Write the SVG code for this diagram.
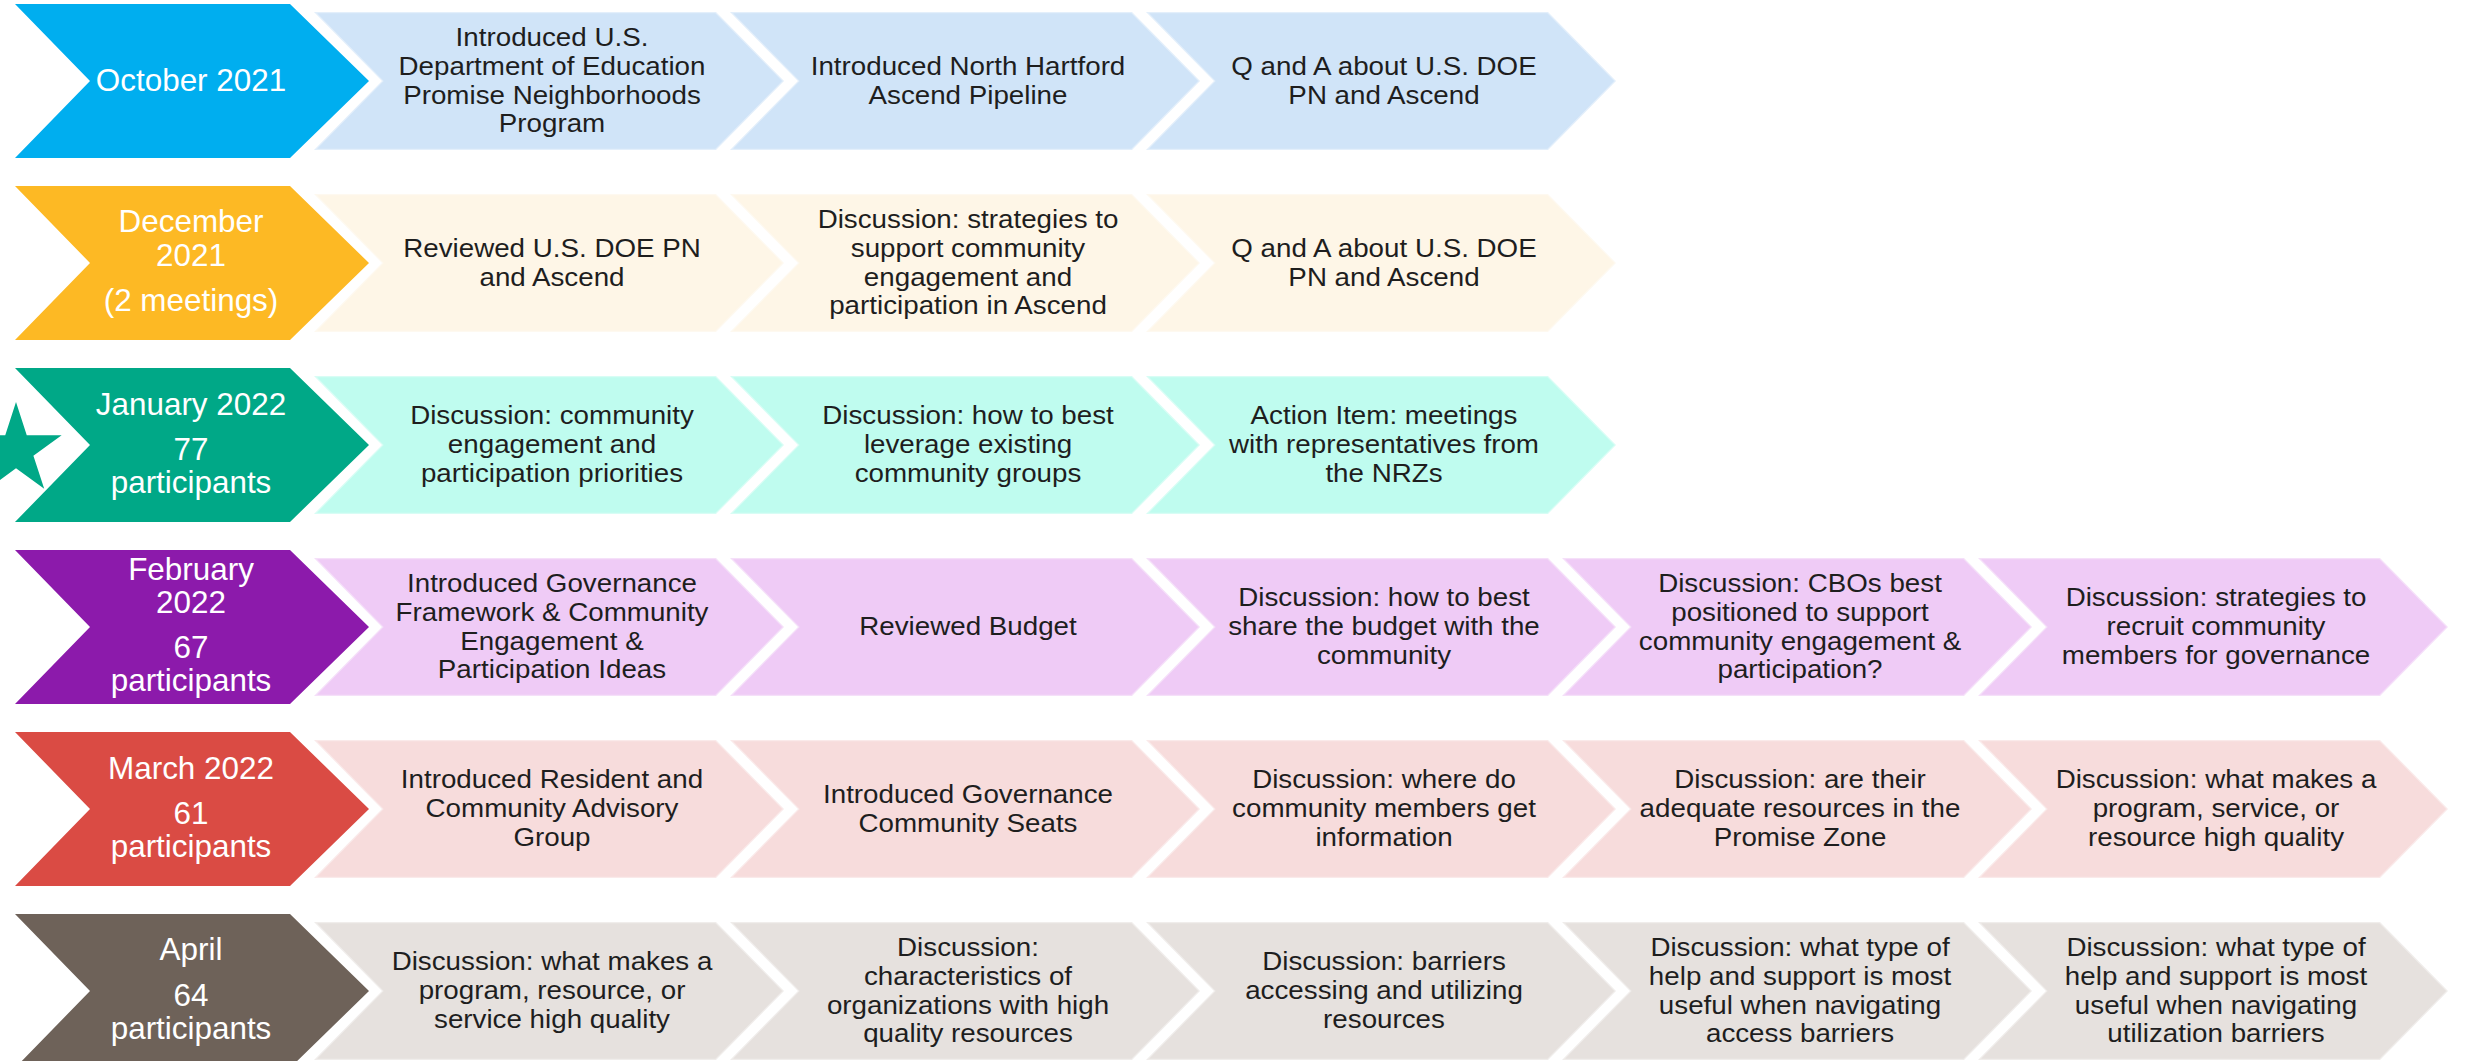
<svg xmlns="http://www.w3.org/2000/svg" xmlns:xlink="http://www.w3.org/1999/xlink" width="2465" height="1061" viewBox="0 0 2465 1061">
<defs>
<path id="chev" d="M15,0 L290,0 L369,77 L290,154 L15,154 L90,77 Z"/>
<path id="box" d="M0,8 L402,8 L470,77 L402,146 L0,146 L68,77 Z"/>
<style>
.c1{fill:#00AEEF}.c2{fill:#FDB924}.c3{fill:#00A887}.c4{fill:#8C1AAB}.c5{fill:#DA4B44}.c6{fill:#6E6259}
.b1{fill:#D0E4F8}.b2{fill:#FEF6E7}.b3{fill:#BFFCEF}.b4{fill:#EFCBF6}.b5{fill:#F7DCDC}.b6{fill:#E6E1DE}
.bx{stroke:#FFFFFF;stroke-opacity:0.4;stroke-width:2.5}
.ct{font-family:"Liberation Sans",Arial,sans-serif;font-size:30.5px;fill:#FFFFFF;text-anchor:middle}
.bt{font-family:"Liberation Sans",Arial,sans-serif;font-size:25px;fill:#1E1E1E;text-anchor:middle}
</style>
</defs>
<rect width="2465" height="1061" fill="#FFFFFF"/>
<g id="connectors"/>

<!-- Row 1: October 2021 -->
<g id="oct-2021">
<use xlink:href="#chev" href="#chev" y="4" class="c1"/>
<text class="ct" transform="translate(191 0) scale(1.03 1)"><tspan x="0" y="91">October 2021</tspan></text>
</g>
<g id="oct-1">
<use xlink:href="#box" href="#box" x="314" y="4" class="b1 bx"/>
<text class="bt" transform="translate(552 0) scale(1.11 1)"><tspan x="0" y="46">Introduced U.S.</tspan><tspan x="0" y="74.8">Department of Education</tspan><tspan x="0" y="103.6">Promise Neighborhoods</tspan><tspan x="0" y="132.4">Program</tspan></text>
</g>
<g id="oct-2">
<use xlink:href="#box" href="#box" x="730" y="4" class="b1 bx"/>
<text class="bt" transform="translate(968 0) scale(1.11 1)"><tspan x="0" y="74.9">Introduced North Hartford</tspan><tspan x="0" y="103.7">Ascend Pipeline</tspan></text>
</g>
<g id="oct-3">
<use xlink:href="#box" href="#box" x="1146" y="4" class="b1 bx"/>
<text class="bt" transform="translate(1384 0) scale(1.11 1)"><tspan x="0" y="74.9">Q and A about U.S. DOE</tspan><tspan x="0" y="103.7">PN and Ascend</tspan></text>
</g>

<!-- Row 2: December 2021 -->
<g id="dec-2021">
<use xlink:href="#chev" href="#chev" y="186" class="c2"/>
<text class="ct" transform="translate(191 0) scale(1.03 1)"><tspan x="0" y="232">December</tspan><tspan x="0" y="266">2021</tspan><tspan x="0" y="311">(2 meetings)</tspan></text>
</g>
<g id="dec-1">
<use xlink:href="#box" href="#box" x="314" y="186" class="b2 bx"/>
<text class="bt" transform="translate(552 0) scale(1.11 1)"><tspan x="0" y="256.9">Reviewed U.S. DOE PN</tspan><tspan x="0" y="285.7">and Ascend</tspan></text>
</g>
<g id="dec-2">
<use xlink:href="#box" href="#box" x="730" y="186" class="b2 bx"/>
<text class="bt" transform="translate(968 0) scale(1.11 1)"><tspan x="0" y="228">Discussion: strategies to</tspan><tspan x="0" y="256.8">support community</tspan><tspan x="0" y="285.6">engagement and</tspan><tspan x="0" y="314.4">participation in Ascend</tspan></text>
</g>
<g id="dec-3">
<use xlink:href="#box" href="#box" x="1146" y="186" class="b2 bx"/>
<text class="bt" transform="translate(1384 0) scale(1.11 1)"><tspan x="0" y="256.9">Q and A about U.S. DOE</tspan><tspan x="0" y="285.7">PN and Ascend</tspan></text>
</g>

<!-- Row 3: January 2022 -->
<g id="jan-2022">
<use xlink:href="#chev" href="#chev" y="368" class="c3"/>
<text class="ct" transform="translate(191 0) scale(1.03 1)"><tspan x="0" y="415">January 2022</tspan><tspan x="0" y="460.5">77</tspan><tspan x="0" y="492.7">participants</tspan></text>
</g>
<g id="jan-1">
<use xlink:href="#box" href="#box" x="314" y="368" class="b3 bx"/>
<text class="bt" transform="translate(552 0) scale(1.11 1)"><tspan x="0" y="424.5">Discussion: community</tspan><tspan x="0" y="453.3">engagement and</tspan><tspan x="0" y="482.1">participation priorities</tspan></text>
</g>
<g id="jan-2">
<use xlink:href="#box" href="#box" x="730" y="368" class="b3 bx"/>
<text class="bt" transform="translate(968 0) scale(1.11 1)"><tspan x="0" y="424.5">Discussion: how to best</tspan><tspan x="0" y="453.3">leverage existing</tspan><tspan x="0" y="482.1">community groups</tspan></text>
</g>
<g id="jan-3">
<use xlink:href="#box" href="#box" x="1146" y="368" class="b3 bx"/>
<text class="bt" transform="translate(1384 0) scale(1.11 1)"><tspan x="0" y="424.5">Action Item: meetings</tspan><tspan x="0" y="453.3">with representatives from</tspan><tspan x="0" y="482.1">the NRZs</tspan></text>
</g>
<g id="star">
<polygon class="c3" points="16,402 26.76,435.2 61.65,435.17 33.41,455.65 44.21,488.83 16,468.3 -12.21,488.83 -1.41,455.65 -29.65,435.17 5.24,435.2"/>
</g>

<!-- Row 4: February 2022 -->
<g id="feb-2022">
<use xlink:href="#chev" href="#chev" y="550" class="c4"/>
<text class="ct" transform="translate(191 0) scale(1.03 1)"><tspan x="0" y="580">February</tspan><tspan x="0" y="613">2022</tspan><tspan x="0" y="658">67</tspan><tspan x="0" y="691">participants</tspan></text>
</g>
<g id="feb-1">
<use xlink:href="#box" href="#box" x="314" y="550" class="b4 bx"/>
<text class="bt" transform="translate(552 0) scale(1.11 1)"><tspan x="0" y="592">Introduced Governance</tspan><tspan x="0" y="620.8">Framework &amp; Community</tspan><tspan x="0" y="649.6">Engagement &amp;</tspan><tspan x="0" y="678.4">Participation Ideas</tspan></text>
</g>
<g id="feb-2">
<use xlink:href="#box" href="#box" x="730" y="550" class="b4 bx"/>
<text class="bt" transform="translate(968 0) scale(1.11 1)"><tspan x="0" y="635">Reviewed Budget</tspan></text>
</g>
<g id="feb-3">
<use xlink:href="#box" href="#box" x="1146" y="550" class="b4 bx"/>
<text class="bt" transform="translate(1384 0) scale(1.11 1)"><tspan x="0" y="606.5">Discussion: how to best</tspan><tspan x="0" y="635.3">share the budget with the</tspan><tspan x="0" y="664.1">community</tspan></text>
</g>
<g id="feb-4">
<use xlink:href="#box" href="#box" x="1562" y="550" class="b4 bx"/>
<text class="bt" transform="translate(1800 0) scale(1.11 1)"><tspan x="0" y="592">Discussion: CBOs best</tspan><tspan x="0" y="620.8">positioned to support</tspan><tspan x="0" y="649.6">community engagement &amp;</tspan><tspan x="0" y="678.4">participation?</tspan></text>
</g>
<g id="feb-5">
<use xlink:href="#box" href="#box" x="1978" y="550" class="b4 bx"/>
<text class="bt" transform="translate(2216 0) scale(1.11 1)"><tspan x="0" y="606.5">Discussion: strategies to</tspan><tspan x="0" y="635.3">recruit community</tspan><tspan x="0" y="664.1">members for governance</tspan></text>
</g>

<!-- Row 5: March 2022 -->
<g id="mar-2022">
<use xlink:href="#chev" href="#chev" y="732" class="c5"/>
<text class="ct" transform="translate(191 0) scale(1.03 1)"><tspan x="0" y="779">March 2022</tspan><tspan x="0" y="824">61</tspan><tspan x="0" y="856.7">participants</tspan></text>
</g>
<g id="mar-1">
<use xlink:href="#box" href="#box" x="314" y="732" class="b5 bx"/>
<text class="bt" transform="translate(552 0) scale(1.11 1)"><tspan x="0" y="788.5">Introduced Resident and</tspan><tspan x="0" y="817.3">Community Advisory</tspan><tspan x="0" y="846.1">Group</tspan></text>
</g>
<g id="mar-2">
<use xlink:href="#box" href="#box" x="730" y="732" class="b5 bx"/>
<text class="bt" transform="translate(968 0) scale(1.11 1)"><tspan x="0" y="802.9">Introduced Governance</tspan><tspan x="0" y="831.7">Community Seats</tspan></text>
</g>
<g id="mar-3">
<use xlink:href="#box" href="#box" x="1146" y="732" class="b5 bx"/>
<text class="bt" transform="translate(1384 0) scale(1.11 1)"><tspan x="0" y="788.5">Discussion: where do</tspan><tspan x="0" y="817.3">community members get</tspan><tspan x="0" y="846.1">information</tspan></text>
</g>
<g id="mar-4">
<use xlink:href="#box" href="#box" x="1562" y="732" class="b5 bx"/>
<text class="bt" transform="translate(1800 0) scale(1.11 1)"><tspan x="0" y="788.5">Discussion: are their</tspan><tspan x="0" y="817.3">adequate resources in the</tspan><tspan x="0" y="846.1">Promise Zone</tspan></text>
</g>
<g id="mar-5">
<use xlink:href="#box" href="#box" x="1978" y="732" class="b5 bx"/>
<text class="bt" transform="translate(2216 0) scale(1.11 1)"><tspan x="0" y="788.5">Discussion: what makes a</tspan><tspan x="0" y="817.3">program, service, or</tspan><tspan x="0" y="846.1">resource high quality</tspan></text>
</g>

<!-- Row 6: April -->
<g id="apr-2022">
<use xlink:href="#chev" href="#chev" y="914" class="c6"/>
<text class="ct" transform="translate(191 0) scale(1.03 1)"><tspan x="0" y="960">April</tspan><tspan x="0" y="1006">64</tspan><tspan x="0" y="1039">participants</tspan></text>
</g>
<g id="apr-1">
<use xlink:href="#box" href="#box" x="314" y="914" class="b6 bx"/>
<text class="bt" transform="translate(552 0) scale(1.11 1)"><tspan x="0" y="970.5">Discussion: what makes a</tspan><tspan x="0" y="999.3">program, resource, or</tspan><tspan x="0" y="1028.1">service high quality</tspan></text>
</g>
<g id="apr-2">
<use xlink:href="#box" href="#box" x="730" y="914" class="b6 bx"/>
<text class="bt" transform="translate(968 0) scale(1.11 1)"><tspan x="0" y="956">Discussion:</tspan><tspan x="0" y="984.8">characteristics of</tspan><tspan x="0" y="1013.6">organizations with high</tspan><tspan x="0" y="1042.4">quality resources</tspan></text>
</g>
<g id="apr-3">
<use xlink:href="#box" href="#box" x="1146" y="914" class="b6 bx"/>
<text class="bt" transform="translate(1384 0) scale(1.11 1)"><tspan x="0" y="970.5">Discussion: barriers</tspan><tspan x="0" y="999.3">accessing and utilizing</tspan><tspan x="0" y="1028.1">resources</tspan></text>
</g>
<g id="apr-4">
<use xlink:href="#box" href="#box" x="1562" y="914" class="b6 bx"/>
<text class="bt" transform="translate(1800 0) scale(1.11 1)"><tspan x="0" y="956">Discussion: what type of</tspan><tspan x="0" y="984.8">help and support is most</tspan><tspan x="0" y="1013.6">useful when navigating</tspan><tspan x="0" y="1042.4">access barriers</tspan></text>
</g>
<g id="apr-5">
<use xlink:href="#box" href="#box" x="1978" y="914" class="b6 bx"/>
<text class="bt" transform="translate(2216 0) scale(1.11 1)"><tspan x="0" y="956">Discussion: what type of</tspan><tspan x="0" y="984.8">help and support is most</tspan><tspan x="0" y="1013.6">useful when navigating</tspan><tspan x="0" y="1042.4">utilization barriers</tspan></text>
</g>
</svg>
